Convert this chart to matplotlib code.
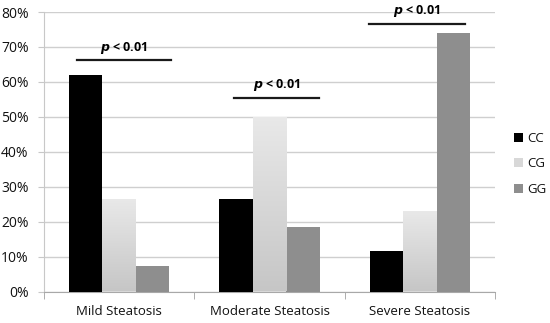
import numpy as np
import matplotlib
matplotlib.use("Agg")
import matplotlib.pyplot as plt

plt.rcParams['font.family'] = ['Open Sans', 'DejaVu Sans']

categories = ['Mild Steatosis', 'Moderate Steatosis', 'Severe Steatosis']
genotypes = ['CC', 'CG', 'GG']
cc_vals = [62.1, 26.6, 11.5]
cg_vals = [26.6, 50.0, 23.1]
gg_vals = [7.3, 18.5, 73.9]
p_labels = ['p < 0.01', 'p < 0.01', 'p < 0.01']
yticks = [0, 10, 20, 30, 40, 50, 60, 70, 80]

fig = plt.figure(figsize=(5.5, 3.23), dpi=100)
ax = fig.add_axes([44 / 550, 1 - 291.5 / 323, 451 / 550, 279.5 / 323])

x = np.arange(len(categories))
w = 0.222
series = [(cc_vals, '#000000'), (cg_vals, None), (gg_vals, '#8e8e8e')]
for k, (vals, col) in enumerate(series):
    xs = x + (k - 1) * w
    if col is not None:
        ax.bar(xs, vals, width=w, color=col, zorder=3, label=genotypes[k])
    else:
        bars = ax.bar(xs, vals, width=w, color='#d8d8d8', zorder=3, label=genotypes[k])
        # light vertical gradient inside the CG bars
        grad = np.linspace(0, 1, 256).reshape(-1, 1)
        for b in bars:
            x0, y0 = b.get_x(), b.get_y()
            im = ax.imshow(grad, cmap=matplotlib.colors.LinearSegmentedColormap.from_list(
                'g', ['#c6c6c6', '#e9e9e9']), origin='lower', aspect='auto',
                extent=[x0, x0 + b.get_width(), y0, y0 + b.get_height()], zorder=3.5)
            im.set_clip_path(b)

ax.set_xlim(-0.5, 2.5)
ax.set_ylim(0, 80)
ax.set_yticks(yticks)
ax.set_yticklabels([f'{v}%' for v in yticks])
ax.set_xticks(x)
ax.set_xticklabels(categories)
ax.set_xticks([-0.5, 0.5, 1.5, 2.5], minor=True)
ax.tick_params(axis='x', which='major', length=0, pad=10, labelsize=9.5, colors='#111111')
ax.tick_params(axis='x', which='minor', length=5, color='#a0a0a0', direction='out')
ax.tick_params(axis='y', length=4, color='#c8c8c8', labelsize=10, colors='#111111', pad=7)
ax.grid(axis='y', color='#cfcfcf', linewidth=1, zorder=0)
for s in ['top', 'right']:
    ax.spines[s].set_visible(False)
ax.spines['left'].set_color('#c8c8c8')
ax.spines['bottom'].set_color('#a8a8a8')

# significance bars
sig_lines = [(-0.28, 0.346, 66.2), (-0.237, 0.33, 55.5), (-0.337, 0.30, 76.7)]
for i, (a, b, yv) in enumerate(sig_lines):
    ax.plot([x[i] + a, x[i] + b], [yv, yv], color='#1a1a1a', lw=1.6, zorder=4,
            clip_on=False)
    ax.text(x[i] + (a + b) / 2, yv + 1.2, p_labels[i].replace('p', r'$\mathbfit{p}$'),
            ha='center', va='bottom', fontsize=9, fontweight='bold', clip_on=False)

leg = ax.legend(loc='upper left', bbox_to_anchor=(1.03, 0.59),
                frameon=False, handlelength=0.7, handleheight=0.7, labelspacing=0.95,
                handletextpad=0.3, fontsize=9.5, borderaxespad=0)
for t in leg.get_texts():
    t.set_color('#111111')

fig.savefig('out.png', dpi=100)
